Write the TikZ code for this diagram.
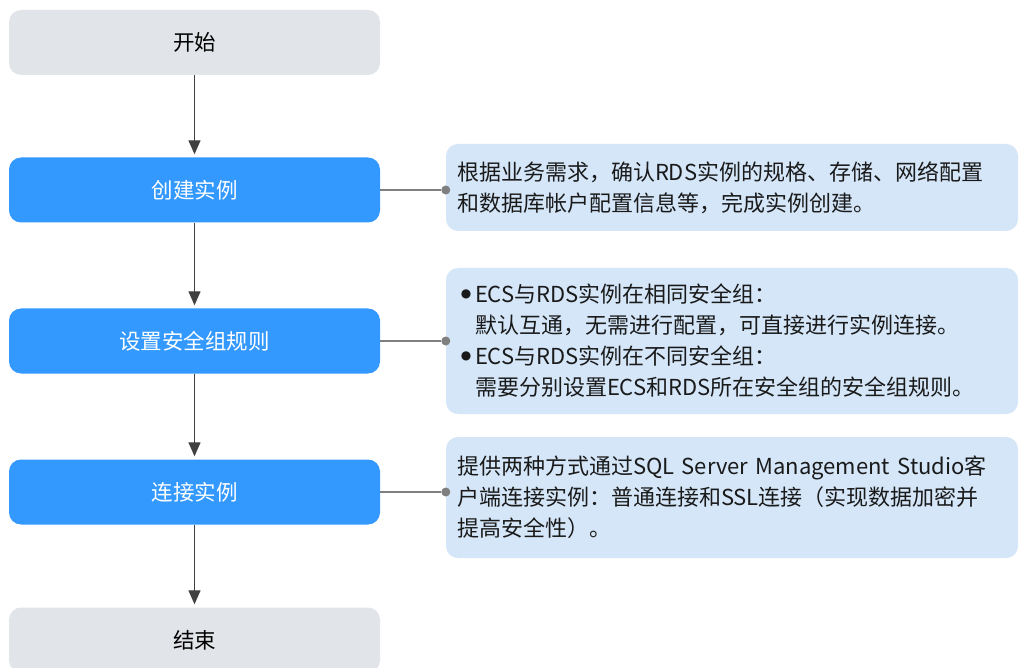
\documentclass[tikz,border=0pt]{standalone}
\usepackage{fontspec}
\setmainfont{Noto Sans CJK SC}
\newfontfamily\dvfont{DejaVu Sans}
\usetikzlibrary{arrows.meta}
\definecolor{graybox}{HTML}{E1E4E8}
\definecolor{bluebox}{HTML}{3399FF}
\definecolor{notebox}{HTML}{D4E6F8}
\definecolor{arrowc}{HTML}{404040}
\definecolor{linec}{HTML}{7F7F7F}
\definecolor{notetext}{HTML}{1A1A1A}
\newcommand{\bulletmark}{\makebox[18pt][c]{\raisebox{5pt}{\dvfont\fontsize{12}{12}\selectfont ●}}}
\begin{document}
\begin{tikzpicture}[x=1pt,y=-1pt,
  stepgray/.style={rectangle, rounded corners=12pt, fill=graybox, minimum width=371pt, minimum height=65pt, font=\fontsize{21.5}{25}\selectfont, text=black},
  stepblue/.style={stepgray, fill=bluebox, text=white},
  note/.style={rectangle, rounded corners=12pt, fill=notebox, minimum width=572pt, text width=550pt, inner xsep=11pt, align=left, font=\fontsize{22}{31}\selectfont, text=notetext},
  flow/.style={draw=arrowc, line width=1.3pt, -{Triangle[width=12pt,length=14pt]}, shorten >=3pt},
  link/.style={draw=linec, line width=1.2pt},
  dot/.style={circle, fill=linec, inner sep=0pt, minimum size=9pt}]
\useasboundingbox (0,0) rectangle (1020,668);
\fill[white] (0,0) rectangle (1020,668);
\clip (0,0) rectangle (1020,668);

\node[stepgray] (start) at (194.5,42.5) {开始};
\node[stepblue] (s1) at (194.5,190) {创建实例};
\node[stepblue] (s2) at (194.5,341) {设置安全组规则};
\node[stepblue] (s3) at (194.5,492) {连接实例};
\node[stepgray] (end) at (194.5,640) {结束};

\draw[flow] (start) -- (s1);
\draw[flow] (s1) -- (s2);
\draw[flow] (s2) -- (s3);
\draw[flow] (s3) -- (end);

\node[note, minimum height=87pt] (n1) at (732,187.5) {根据业务需求，确认RDS实例的规格、存储、网络配置\\和数据库帐户配置信息等，完成实例创建。};
\node[note, minimum height=146pt] (n2) at (732,341) {\bulletmark ECS与RDS实例在相同安全组：\\\hspace*{18pt}默认互通，无需进行配置，可直接进行实例连接。\\\bulletmark ECS与RDS实例在不同安全组：\\\hspace*{18pt}需要分别设置ECS和RDS所在安全组的安全组规则。};
\node[note, minimum height=121pt] (n3) at (732,497.5) {提供两种方式通过SQL Server Management Studio客\\户端连接实例：普通连接和SSL连接（实现数据加密并\\提高安全性）。};

\node[dot] (d1) at (n1.west |- s1) {};
\node[dot] (d2) at (n2.west |- s2) {};
\node[dot] (d3) at (n3.west |- s3) {};
\draw[link] (s1) -- (d1);
\draw[link] (s2) -- (d2);
\draw[link] (s3) -- (d3);
\end{tikzpicture}
\end{document}
